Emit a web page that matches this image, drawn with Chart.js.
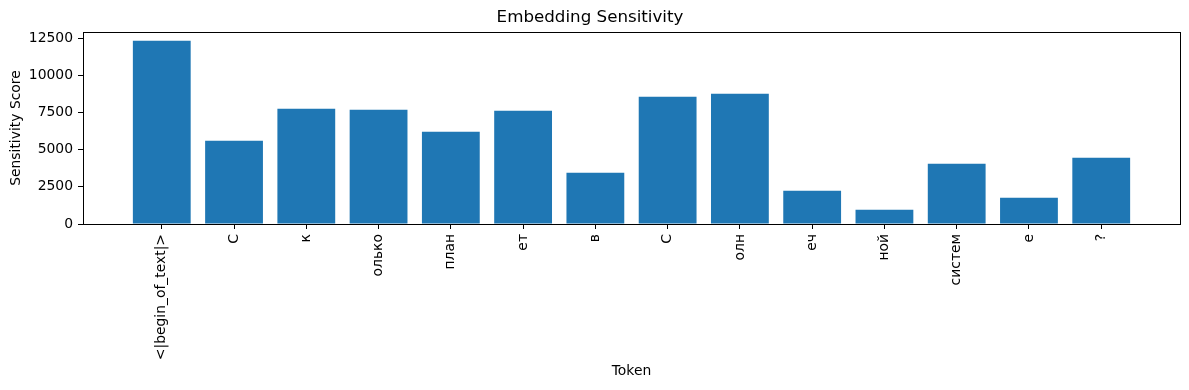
<!DOCTYPE html>
<html>
<head>
<meta charset="utf-8">
<script src="https://cdn.jsdelivr.net/npm/chart.js@4.4.1/dist/chart.umd.min.js"></script>
<style>
  html, body { margin: 0; padding: 0; background: #fff; }
  #wrap { width: 1189px; height: 390px; }
</style>
</head>
<body>
<div id="wrap"><canvas id="c" width="1189" height="390"></canvas></div>
<script>
const tokens = ["<|begin_of_text|>", "С", "к", "олько", "план", "ет", "в", "С", "олн", "еч", "ной", "систем", "е", "?"];
const scores = [12340, 5610, 7760, 7700, 6215, 7630, 3455, 8570, 8775, 2245, 965, 4060, 1775, 4465];
const yTicks = [0, 2500, 5000, 7500, 10000, 12500];

const FONT = "'DejaVu Sans', sans-serif";
const points = scores.map((v, i) => ({ x: i, y: v }));

const frame = {
  id: 'frame',
  afterDatasetsDraw(chart) {
    const { ctx, chartArea: a } = chart;
    ctx.save();
    ctx.strokeStyle = '#000';
    ctx.lineWidth = 1;
    ctx.strokeRect(Math.round(a.left) + 0.5, Math.round(a.top) + 0.5,
                   Math.round(a.right - a.left), Math.round(a.bottom - a.top));
    ctx.restore();
  }
};

new Chart(document.getElementById('c'), {
  type: 'bar',
  data: {
    datasets: [{
      data: points,
      backgroundColor: '#1f77b4',
      borderColor: '#1f77b4',
      borderWidth: 0,
      inflateAmount: 0,
      barPercentage: 0.8,
      categoryPercentage: 1.0
    }]
  },
  options: {
    responsive: false,
    animation: false,
    devicePixelRatio: 1,
    layout: { padding: { left: 0, right: 9, top: 0, bottom: 0 } },
    plugins: {
      legend: { display: false },
      tooltip: { enabled: false },
      title: {
        display: true,
        text: 'Embedding Sensitivity',
        color: '#000',
        font: { family: FONT, size: 16.7, weight: 'normal' },
        padding: { top: 8, bottom: 4 }
      }
    },
    scales: {
      x: {
        type: 'linear',
        min: -1.09,
        max: 14.09,
        offset: false,
        afterBuildTicks(axis) { axis.ticks = tokens.map((t, i) => ({ value: i })); },
        afterFit(axis) { axis.height = 166; },
        ticks: {
          autoSkip: false,
          minRotation: 90,
          maxRotation: 90,
          padding: 5,
          color: '#000',
          font: { family: FONT, size: 13.9 },
          callback: (v) => tokens[v]
        },
        grid: { display: true, offset: false, drawOnChartArea: false, drawTicks: true, tickLength: 5, tickColor: '#000', tickWidth: 1 },
        border: { display: false },
        title: {
          display: true,
          text: 'Token',
          color: '#000',
          font: { family: FONT, size: 13.9 },
          padding: { top: 4, bottom: 10 }
        }
      },
      y: {
        min: 0,
        max: 12924,
        afterBuildTicks(axis) { axis.ticks = yTicks.map(v => ({ value: v })); },
        afterFit(axis) { axis.width = 83; },
        ticks: {
          padding: 5,
          color: '#000',
          font: { family: FONT, size: 13.9 },
          callback: (v) => String(v)
        },
        grid: { display: true, offset: false, drawOnChartArea: false, drawTicks: true, tickLength: 5, tickColor: '#000', tickWidth: 1 },
        border: { display: false },
        title: {
          display: true,
          text: 'Sensitivity Score',
          color: '#000',
          font: { family: FONT, size: 13.9 },
          padding: { top: 8, bottom: 4 }
        }
      }
    }
  },
  plugins: [frame]
});
</script>
</body>
</html>
